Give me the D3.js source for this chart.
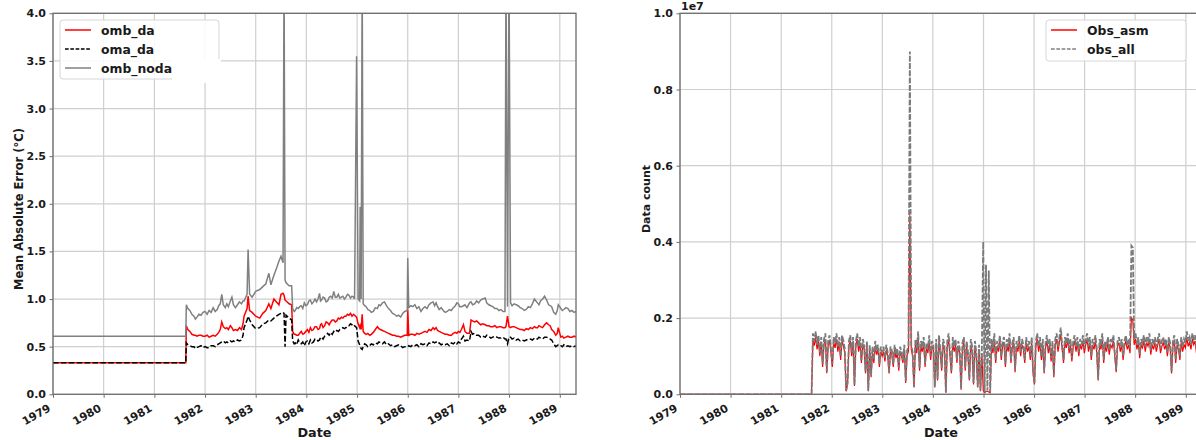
<!DOCTYPE html>
<meta charset="utf-8">
<title>MAE and data count</title>
<style>
    body { margin: 0; background: #fff; }
    text { font-family: "DejaVu Sans", sans-serif; font-weight: bold; fill: #1a1a1a; }
</style>
<script src="https://d3js.org/d3.v7.js"></script>
<body>
<script>
    // ---- left panel: mean absolute error (decimal years) ----
    const maeYears = [
        1979.00, 1981.62, 1981.63, 1981.66, 1981.70, 1981.74, 1981.78, 1981.81, 1981.84, 1981.88,
        1981.92, 1981.96, 1982.00, 1982.04, 1982.08, 1982.12, 1982.16, 1982.20, 1982.24, 1982.27,
        1982.30, 1982.33, 1982.36, 1982.40, 1982.43, 1982.46, 1982.50, 1982.53, 1982.56, 1982.60,
        1982.64, 1982.68, 1982.72, 1982.75, 1982.77, 1982.83, 1982.85, 1982.88, 1982.93, 1983.00,
        1983.08, 1983.14, 1983.20, 1983.26, 1983.30, 1983.36, 1983.41, 1983.46, 1983.50, 1983.54,
        1983.56, 1983.58, 1983.60, 1983.66, 1983.71,
        1983.73, 1983.76, 1983.78, 1983.81, 1983.84, 1983.87, 1983.90, 1983.93, 1983.96, 1983.99,
        1984.02, 1984.05, 1984.08, 1984.11, 1984.14, 1984.17, 1984.20, 1984.23, 1984.26, 1984.28,
        1984.30, 1984.33, 1984.36, 1984.39, 1984.42, 1984.45, 1984.48, 1984.51, 1984.54, 1984.57,
        1984.60, 1984.63, 1984.66, 1984.69, 1984.72, 1984.75, 1984.78, 1984.81, 1984.84, 1984.87,
        1984.90, 1984.93, 1984.95, 1984.99,
        1985.02, 1985.05, 1985.06, 1985.08, 1985.10,
        1985.12, 1985.15, 1985.18, 1985.21, 1985.25, 1985.28, 1985.32, 1985.36, 1985.40, 1985.43,
        1985.46, 1985.50, 1985.54, 1985.58, 1985.62, 1985.66, 1985.70, 1985.74, 1985.78, 1985.82,
        1985.86, 1985.90, 1985.94, 1985.99,
        1986.00, 1986.02, 1986.06, 1986.10, 1986.14, 1986.18, 1986.22, 1986.26, 1986.30, 1986.34,
        1986.38, 1986.42, 1986.46, 1986.50, 1986.53, 1986.56, 1986.59, 1986.62, 1986.66, 1986.70,
        1986.74, 1986.78, 1986.82, 1986.86, 1986.90, 1986.94, 1986.97,
        1987.00, 1987.03, 1987.06, 1987.10, 1987.13, 1987.17, 1987.22, 1987.25, 1987.28, 1987.32,
        1987.36, 1987.40, 1987.44, 1987.48, 1987.53, 1987.56, 1987.60, 1987.64, 1987.68, 1987.72,
        1987.76, 1987.80, 1987.84, 1987.88, 1987.92,
        1987.94, 1987.97, 1988.00, 1988.03, 1988.06, 1988.10, 1988.14, 1988.18, 1988.22, 1988.26,
        1988.30, 1988.34, 1988.38, 1988.42, 1988.46, 1988.50, 1988.53, 1988.56, 1988.59, 1988.62,
        1988.66, 1988.70, 1988.74, 1988.78, 1988.81, 1988.84, 1988.88, 1988.92, 1988.95, 1988.97,
        1989.00, 1989.02, 1989.05, 1989.08, 1989.12, 1989.16, 1989.20, 1989.24, 1989.28, 1989.32];
    const ombDa = [
        .33, .33, .72, .68, .66, .63, .62, .62, .61, .62,
        .62, .61, .61, .62, .60, .61, .62, .61, .63, .65,
        .68, .76, .71, .69, .70, .68, .72, .70, .67, .68,
        .67, .70, .68, .74, .82, .90, 1.03, .88, .86, .82,
        .80, .85, .88, .95, .90, 1.00, .97, .94, 1.05, 1.06,
        1.04, .99, .98, .95, .94,
        .66, .63, .63, .62, .62, .64, .66, .63, .64, .66,
        .68, .65, .70, .67, .68, .71, .71, .68, .69, .73,
        .74, .70, .72, .76, .75, .73, .76, .78, .78, .76,
        .77, .80, .79, .81, .80, .82, .82, .84, .83, .85,
        .82, .84, .83, .81,
        .74, .70, .72, .68, .84,
        .66, .64, .63, .64, .62, .63, .65, .68, .71, .69,
        .68, .67, .66, .65, .64, .63, .62, .62, .61, .61,
        .60, .61, .62, .62,
        .89, .62, .63, .63, .62, .64, .63, .64, .65, .66,
        .65, .68, .67, .70, .68, .70, .67, .66, .65, .64,
        .63, .63, .62, .62, .64, .65, .64,
        .66, .65, .68, .73, .66, .64, .64, .78, .77, .76,
        .77, .75, .73, .74, .73, .72, .72, .71, .71, .72,
        .70, .71, .71, .70, .70,
        .71, .82, .71, .70, .71, .71, .70, .69, .68, .68,
        .67, .69, .68, .70, .69, .71, .70, .70, .72, .71,
        .70, .73, .75, .73, .72, .68, .66, .62, .64, .70,
        .64, .60, .61, .59, .60, .61, .60, .60, .61, .60];
    const omaDa = [
        .33, .33, .54, .52, .51, .50, .50, .48, .49, .50,
        .51, .49, .50, .49, .49, .51, .51, .50, .52, .53,
        .54, .55, .56, .54, .55, .54, .56, .55, .56, .55,
        .57, .56, .57, .62, .70, .78, .82, .78, .73, .69,
        .70, .74, .75, .78, .77, .80, .82, .84, .85, .86,
        .85, .50, .83, .80, .78,
        .56, .53, .54, .52, .57, .54, .53, .55, .51, .55,
        .56, .53, .57, .54, .55, .58, .58, .56, .57, .60,
        .60, .58, .61, .62, .64, .62, .65, .63, .66, .65,
        .67, .66, .68, .69, .70, .69, .70, .72, .72, .74,
        .73, .71, .72, .70,
        .56, .52, .50, .48, .47,
        .50, .53, .52, .50, .51, .53, .52, .54, .53, .55,
        .54, .53, .55, .52, .53, .51, .52, .50, .51, .52,
        .51, .49, .50, .50,
        .50, .51, .50, .52, .51, .52, .50, .53, .52, .53,
        .51, .54, .53, .55, .54, .55, .53, .54, .52, .53,
        .52, .53, .51, .54, .53, .55, .53,
        .55, .54, .58, .61, .56, .57, .56, .66, .63, .64,
        .62, .62, .60, .61, .60, .62, .61, .59, .60, .61,
        .60, .59, .59, .60, .58,
        .58, .53, .60, .60, .58, .59, .57, .58, .56, .57,
        .56, .57, .58, .58, .57, .59, .58, .58, .60, .59,
        .58, .60, .60, .59, .58, .57, .53, .50, .51, .52,
        .51, .51, .50, .52, .50, .51, .50, .51, .50, .51];
    const ombNoda = [
        .61, .61, .94, .90, .88, .84, .82, .79, .81, .84,
        .83, .86, .87, .84, .88, .86, .91, .87, .89, .93,
        .95, 1.05, .94, .91, .95, .92, .98, 1.02, .94, .91,
        .94, .97, .95, .98, .98, 1.05, 1.52, 1.05, 1.02, 1.08,
        1.10, 1.13, 1.16, 1.27, 1.15, 1.25, 1.32, 1.40, 1.45, 1.38,
        4.50, 1.20, 1.17, 1.14, 1.14,
        .90, .87, .88, .91, .90, .92, .93, .90, .96, .93,
        .94, .98, .99, .95, .97, 1.00, .97, 1.00, 1.06, .98,
        .99, 1.02, 1.01, .97, .98, 1.02, 1.03, 1.01, 1.08, 1.02,
        1.02, 1.05, 1.01, 1.02, 1.03, 1.00, 1.02, 1.05, 1.04, 1.01,
        1.03, 1.02, 1.00, 3.55,
        1.00, .98, 1.97, 1.00, 4.50,
        .95, .93, .92, .89, .88, .86, .87, .91, .90, .94,
        .93, .96, .97, .93, .90, .88, .85, .84, .82, .83,
        .81, .85, .87, .88,
        1.43, .91, .93, .92, .94, .90, .92, .87, .90, .92,
        .90, .94, .96, .97, .93, .96, .92, .89, .91, .88,
        .86, .87, .89, .88, .91, .93, .96,
        .95, .92, .92, .93, .94, .91, .96, .97, .94, .95,
        .98, .96, .99, 1.00, 1.01, .96, .94, .93, .92, .90,
        .90, .88, .89, .87, .87,
        4.50, .92, 4.50, .96, .93, .95, .94, .93, .91, .90,
        .88, .89, .92, .91, .95, 1.00, .98, .96, .94, .98,
        1.00, 1.03, .99, .94, .93, .92, .86, .84, .88, .94,
        .92, .90, .88, .89, .91, .90, .87, .88, .86, .87];
    const maeTicks = [0, 0.5, 1.0, 1.5, 2.0, 2.5, 3.0, 3.5, 4.0];

    // ---- right panel: data counts (units of 1e4), one value every 10 days ----
    const countLead = ["1979-01-01", 0];
    const countStart = "1981-08-08";
    const countStepDays = 10;
    const obsAsm = [0,
        145, 128, 150, 118, 140, 100, 138, 72, 132, 145, 55, 128, 140, 110,
        72, 136, 122, 145, 112, 138, 90, 140, 128, 108, 8,
        25, 128, 140, 100, 136, 22, 128, 145, 112, 136, 82, 132, 118, 55, 128,
        8, 118, 45, 112, 82, 126, 104, 118, 72, 112, 100,
        112, 86, 118, 100, 55, 112, 104, 72, 118, 95, 108, 62, 112, 100, 82, 118, 30, 104, 112, 470,
        118, 100, 18, 130, 108, 150, 62, 126, 112, 136, 72, 122, 108, 140, 90, 126,
        118, 18, 130, 36, 140, 108, 62, 130, 118, 4, 126, 145, 100, 55, 136, 112, 130, 82, 126, 108,
        12, 122, 136, 62, 126, 100, 36, 130, 112, 26, 126, 100, 18, 118, 8, 108,
        10, 4, 8, 8, 6, 4,
        130, 108, 145, 82, 126, 112, 140, 90, 126, 136, 72, 130, 112, 145, 82, 122, 136, 58, 126, 112,
        140, 100, 130, 118, 82, 136, 112, 126, 90, 136, 55,
        26, 126, 145, 112, 136, 90, 130, 55, 122, 140, 108, 130, 86, 126, 45, 130, 145, 112, 136, 158,
        118, 82, 136, 122, 145, 108, 130, 86, 126, 140, 112, 136, 100, 130, 118, 140, 108,
        130, 145, 112, 136, 90, 130, 118, 140, 108, 36, 130, 118, 145, 82, 126, 112, 136, 104, 130, 122,
        140, 100, 58, 126, 136, 112, 130, 90, 126, 140, 118, 130, 108, 200, 195, 130,
        145, 118, 136, 95, 130, 122, 140, 112, 136, 126, 145, 104, 130, 118, 136, 112, 130, 145, 108, 126,
        136, 118, 130, 100, 136, 122, 55, 126, 140, 82, 130, 118, 90, 136, 112, 130, 122,
        150, 126, 136, 118, 145, 130, 140, 108, 136, 150, 122, 136, 126];
    const obsAll = [0,
        160, 140, 165, 130, 155, 110, 150, 80, 145, 160, 60, 140, 155, 120,
        80, 150, 135, 160, 125, 150, 100, 155, 140, 120, 10,
        30, 140, 155, 110, 150, 25, 140, 160, 125, 150, 90, 145, 130, 60, 140,
        10, 130, 50, 125, 90, 140, 115, 130, 80, 125, 110,
        125, 95, 130, 110, 60, 125, 115, 80, 130, 105, 120, 70, 125, 110, 90, 130, 35, 115, 125, 900,
        130, 110, 20, 145, 120, 165, 70, 140, 125, 150, 80, 135, 120, 155, 100, 140,
        130, 20, 145, 40, 155, 120, 70, 145, 130, 5, 140, 160, 110, 60, 150, 125, 145, 90, 140, 120,
        15, 135, 150, 70, 140, 110, 40, 145, 125, 30, 140, 110, 20, 130, 10, 120,
        400, 5, 340, 10, 325, 5,
        145, 120, 160, 90, 140, 125, 155, 100, 140, 150, 80, 145, 125, 160, 90, 135, 150, 65, 140, 125,
        155, 110, 145, 130, 90, 150, 125, 140, 100, 150, 60,
        30, 140, 160, 125, 150, 100, 145, 60, 135, 155, 120, 145, 95, 140, 50, 145, 160, 125, 150, 175,
        130, 90, 150, 135, 160, 120, 145, 95, 140, 155, 125, 150, 110, 145, 130, 155, 120,
        145, 160, 125, 150, 100, 145, 130, 155, 120, 40, 145, 130, 160, 90, 140, 125, 150, 115, 145, 135,
        155, 110, 65, 140, 150, 125, 145, 100, 140, 155, 130, 145, 120, 390, 385, 145,
        160, 130, 150, 105, 145, 135, 155, 125, 150, 140, 160, 115, 145, 130, 150, 125, 145, 160, 120, 140,
        150, 130, 145, 110, 150, 135, 60, 140, 155, 90, 145, 130, 100, 150, 125, 145, 135,
        165, 140, 150, 130, 160, 145, 155, 120, 150, 165, 135, 150, 140];
    const countTicks = [0, 200, 400, 600, 800, 1000];

    // ---- helpers ----
    function yearToDate(y) {
        const yr = Math.floor(y);
        const a = new Date(yr, 0, 1), b = new Date(yr + 1, 0, 1);
        return new Date(+a + (y - yr) * (b - a));
    }
    const xDomain = [yearToDate(1979), yearToDate(1989.32)];
    const gridColor = "#cfcfcf", spineColor = "#6e6e6e";

    const svg = d3.select("body").append("svg")
        .attr("width", 1196).attr("height", 440);

    function panel(id, left, right, top, bottom, yDomain, yTicks, yFmt) {
        const x = d3.scaleTime().domain(xDomain).range([left, right]);
        const y = d3.scaleLinear().domain(yDomain).range([bottom, top]);
        const g = svg.append("g");

        svg.append("clipPath").attr("id", id)
            .append("rect").attr("x", left).attr("y", top)
            .attr("width", right - left).attr("height", bottom - top);

        const years = d3.timeYear.range(new Date(1979, 0, 1), new Date(1990, 0, 1));
        // grid
        g.append("g").selectAll("line").data(years).join("line")
            .attr("x1", d => x(d)).attr("x2", d => x(d))
            .attr("y1", top).attr("y2", bottom)
            .attr("stroke", gridColor).attr("stroke-width", 1.2);
        g.append("g").selectAll("line").data(yTicks).join("line")
            .attr("x1", left).attr("x2", right)
            .attr("y1", d => y(d)).attr("y2", d => y(d))
            .attr("stroke", gridColor).attr("stroke-width", 1.2);

        // axes
        const xa = g.append("g").attr("transform", `translate(0,${bottom})`)
            .call(d3.axisBottom(x).tickValues(years).tickFormat(d3.timeFormat("%Y")).tickSize(3.5));
        xa.selectAll("text")
            .attr("x", 0).attr("y", 0).attr("dy", 0)
            .attr("text-anchor", "end")
            .attr("transform", "translate(-2,16) rotate(-30)")
            .style("font-size", "11px");
        const ya = g.append("g").attr("transform", `translate(${left},0)`)
            .call(d3.axisLeft(y).tickValues(yTicks).tickFormat(yFmt).tickSize(3.5).tickPadding(3.5));
        ya.selectAll("text").style("font-size", "11px");
        [xa, ya].forEach(a => {
            a.select(".domain").remove();
            a.selectAll("line").attr("stroke", spineColor);
            a.selectAll("text").attr("fill", "#1a1a1a");
        });

        const plot = g.append("g").attr("clip-path", `url(#${id})`);
        return {x, y, g, plot, left, right, top, bottom};
    }

    function spines(p) {
        p.g.append("rect")
            .attr("x", p.left).attr("y", p.top)
            .attr("width", p.right - p.left).attr("height", p.bottom - p.top)
            .attr("fill", "none").attr("stroke", spineColor).attr("stroke-width", 1.3);
    }

    function legend(g, x0, y0, w, h, items) {
        g.append("rect").attr("x", x0).attr("y", y0).attr("width", w).attr("height", h)
            .attr("rx", 3).attr("fill", "#fff").attr("fill-opacity", 0.85)
            .attr("stroke", "#d6d6d6");
        items.forEach((it, i) => {
            const yy = y0 + 10 + i * 19;
            g.append("line").attr("x1", x0 + 5).attr("x2", x0 + 31)
                .attr("y1", yy).attr("y2", yy)
                .attr("stroke", it.color).attr("stroke-width", 1.5)
                .attr("stroke-dasharray", it.dash || null);
            g.append("text").attr("x", x0 + 41).attr("y", yy + 4.5)
                .style("font-size", "12.4px").text(it.name);
        });
    }

    // ---- left panel ----
    const L = panel("clipL", 53, 576, 13.3, 394.3, [0, 4], maeTicks, d3.format(".1f"));
    const maeDates = maeYears.map(yearToDate);
    const lineL = vals => d3.line().x(d => L.x(d[0])).y(d => L.y(d[1]))(
        maeDates.map((d, i) => [d, vals[i]]).filter(p => p[1] != null));
    L.plot.append("path").attr("d", lineL(ombDa))
        .attr("fill", "none").attr("stroke", "#ff0000").attr("stroke-width", 1.5);
    L.plot.append("path").attr("d", lineL(omaDa))
        .attr("fill", "none").attr("stroke", "#000").attr("stroke-width", 1.5)
        .attr("stroke-dasharray", "5.5,2.4");
    L.plot.append("path").attr("d", lineL(ombNoda))
        .attr("fill", "none").attr("stroke", "#808080").attr("stroke-width", 1.5);
    spines(L);
    legend(L.g, 60, 20, 159, 59, [
        {name: "omb_da", color: "#ff0000"},
        {name: "oma_da", color: "#000", dash: "3.7,1.6"},
        {name: "omb_noda", color: "#808080"}
    ]);
    // blank patch over the legend corner, as in the source image
    L.g.append("rect").attr("x", 172).attr("y", 59).attr("width", 49).attr("height", 24)
        .attr("fill", "#fff");

    svg.append("text").attr("x", (L.left + L.right) / 2).attr("y", 437)
        .attr("text-anchor", "middle").style("font-size", "12.8px").text("Date");
    svg.append("text").attr("transform", "translate(23,209) rotate(-90)")
        .attr("text-anchor", "middle").style("font-size", "11.5px")
        .text("Mean Absolute Error (°C)");

    // ---- right panel ----
    const R = panel("clipR", 680, 1202, 13.3, 394.3, [0, 1000], countTicks, d => (d / 1000).toFixed(1));
    const t0 = new Date(countStart + "T00:00:00");
    const countDate = i => d3.timeDay.offset(t0, i * countStepDays);
    const leadDate = new Date(countLead[0] + "T00:00:00");
    const lineR = vals => d3.line().x(d => R.x(d[0])).y(d => R.y(d[1]))(
        [[leadDate, countLead[1]]].concat(vals.map((v, i) => [countDate(i), v])));
    R.plot.append("path").attr("d", lineR(obsAsm))
        .attr("fill", "none").attr("stroke", "#ff0000").attr("stroke-width", 1.2);
    R.plot.append("path").attr("d", lineR(obsAll))
        .attr("fill", "none").attr("stroke", "#7a7a7a").attr("stroke-width", 1.8)
        .attr("stroke-dasharray", "5.5,1.8");
    spines(R);
    legend(R.g, 1046, 20, 140, 41, [
        {name: "Obs_asm", color: "#ff0000"},
        {name: "obs_all", color: "#808080", dash: "3.7,1.6"}
    ]);
    svg.append("text").attr("x", 681).attr("y", 10).style("font-size", "11px").text("1e7");
    svg.append("text").attr("x", 941).attr("y", 437)
        .attr("text-anchor", "middle").style("font-size", "12.8px").text("Date");
    svg.append("text").attr("transform", "translate(650,199) rotate(-90)")
        .attr("text-anchor", "middle").style("font-size", "11px").text("Data count");
</script>
</body>
